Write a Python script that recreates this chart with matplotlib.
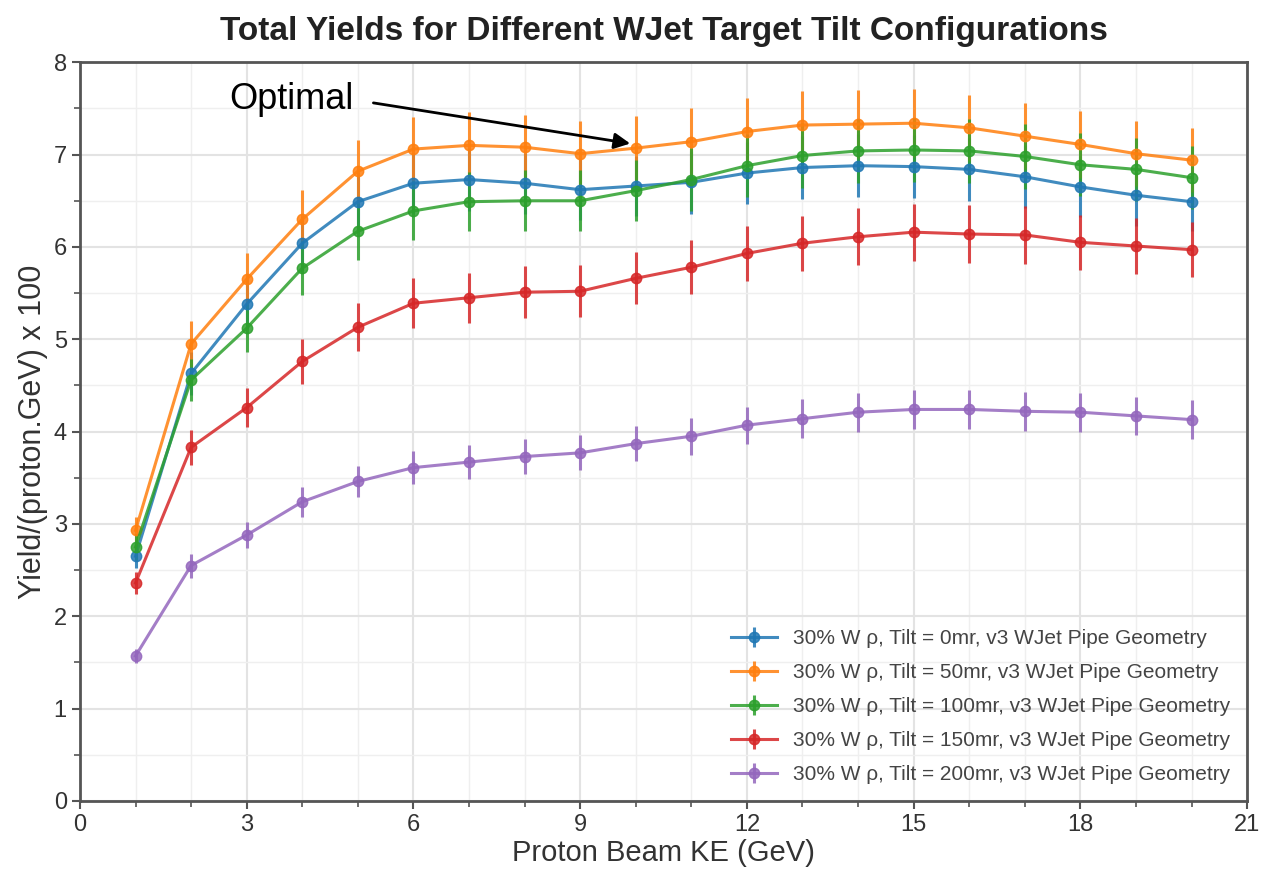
import matplotlib.pyplot as plt
from matplotlib.ticker import MultipleLocator

plt.rcParams['font.family'] = ['Liberation Sans', 'DejaVu Sans']

# Proton beam kinetic energy (GeV)
beam_ke = list(range(1, 21))

# Yields x 100
tilt_0 = [2.65, 4.63, 5.38, 6.04, 6.49, 6.69, 6.73, 6.69, 6.62, 6.66,
          6.70, 6.80, 6.86, 6.88, 6.87, 6.84, 6.76, 6.65, 6.56, 6.49]
tilt_50 = [2.93, 4.95, 5.65, 6.30, 6.82, 7.06, 7.10, 7.08, 7.01, 7.07,
           7.14, 7.25, 7.32, 7.33, 7.34, 7.29, 7.20, 7.11, 7.01, 6.94]
tilt_100 = [2.75, 4.56, 5.12, 5.77, 6.17, 6.39, 6.49, 6.50, 6.50, 6.61,
            6.73, 6.88, 6.99, 7.04, 7.05, 7.04, 6.98, 6.89, 6.84, 6.75]
tilt_150 = [2.36, 3.83, 4.26, 4.76, 5.13, 5.39, 5.45, 5.51, 5.52, 5.66,
            5.78, 5.93, 6.04, 6.11, 6.16, 6.14, 6.13, 6.05, 6.01, 5.97]
tilt_200 = [1.57, 2.55, 2.88, 3.24, 3.46, 3.61, 3.67, 3.73, 3.77, 3.87,
            3.95, 4.07, 4.14, 4.21, 4.24, 4.24, 4.22, 4.21, 4.17, 4.13]

# Error bar half-lengths
err_0 = [0.13, 0.23, 0.27, 0.30, 0.32, 0.33, 0.34, 0.33, 0.33, 0.33,
         0.34, 0.34, 0.34, 0.34, 0.34, 0.34, 0.34, 0.33, 0.33, 0.32]
err_50 = [0.15, 0.25, 0.28, 0.32, 0.34, 0.35, 0.36, 0.35, 0.35, 0.35,
          0.36, 0.36, 0.37, 0.37, 0.37, 0.36, 0.36, 0.36, 0.35, 0.35]
err_100 = [0.14, 0.23, 0.26, 0.29, 0.31, 0.32, 0.32, 0.33, 0.33, 0.33,
           0.34, 0.34, 0.35, 0.35, 0.35, 0.35, 0.35, 0.34, 0.34, 0.34]
err_150 = [0.12, 0.19, 0.21, 0.24, 0.26, 0.27, 0.27, 0.28, 0.28, 0.28,
           0.29, 0.30, 0.30, 0.31, 0.31, 0.31, 0.31, 0.30, 0.30, 0.30]
err_200 = [0.08, 0.13, 0.14, 0.16, 0.17, 0.18, 0.18, 0.19, 0.19, 0.19,
           0.20, 0.20, 0.21, 0.21, 0.21, 0.21, 0.21, 0.21, 0.21, 0.21]

series = [tilt_0, tilt_50, tilt_100, tilt_150, tilt_200]
errors = [err_0, err_50, err_100, err_150, err_200]
tilts = [0, 50, 100, 150, 200]
colors = ['#1f77b4', '#ff7f0e', '#2ca02c', '#d62728', '#9467bd']

fig = plt.figure(figsize=(12.61, 8.77), dpi=100)
ax = fig.add_axes([0.0634, 0.0867, 0.9256, 0.8423])

for y, e, t, c in zip(series, errors, tilts, colors):
    ax.errorbar(beam_ke, y, yerr=e, fmt='-o', color=c, markersize=7.5,
                linewidth=2.2, elinewidth=2.2, capsize=0, alpha=0.85,
                label=f"30% W \u03c1, Tilt = {t}mr, v3 WJet Pipe Geometry")

ax.set_xlim(0, 21)
ax.set_ylim(0, 8)
ax.xaxis.set_major_locator(MultipleLocator(3))
ax.xaxis.set_minor_locator(MultipleLocator(1))
ax.yaxis.set_major_locator(MultipleLocator(1))
ax.yaxis.set_minor_locator(MultipleLocator(0.5))
ax.grid(which='major', color='#e3e3e3', linewidth=1.5)
ax.grid(which='minor', color='#efefef', linewidth=1.0)
ax.set_axisbelow(True)

for s in ax.spines.values():
    s.set_color('#555555')
    s.set_linewidth(2)
ax.tick_params(which='major', length=6, width=1.5, color='#555555',
               labelsize=17, labelcolor='#333333')
ax.tick_params(which='minor', length=4, width=1.2, color='#555555')

ax.set_xlabel('Proton Beam KE (GeV)', fontsize=21, color='#333333', labelpad=2)
ax.set_ylabel('Yield/(proton.GeV) x 100', fontsize=22, color='#333333', labelpad=4)
ax.set_title('Total Yields for Different WJet Target Tilt Configurations',
             fontsize=24, fontweight='bold', color='#222222', pad=16)

# "Optimal" callout pointing at the 50 mr curve
ax.text(4.92, 7.60, 'Optimal', fontsize=26, color='black',
        ha='right', va='center')
ax.annotate('', xy=(9.9, 7.12), xytext=(5.28, 7.56),
            arrowprops=dict(arrowstyle='-|>', color='black', lw=2,
                            mutation_scale=24, shrinkA=0, shrinkB=0))

leg = ax.legend(loc='lower right', fontsize=15, frameon=False,
                handlelength=2.2, borderaxespad=0.4, labelspacing=0.72,
                handletextpad=0.8)
for txt in leg.get_texts():
    txt.set_color('#444444')

fig.savefig('out.png', dpi=100)
